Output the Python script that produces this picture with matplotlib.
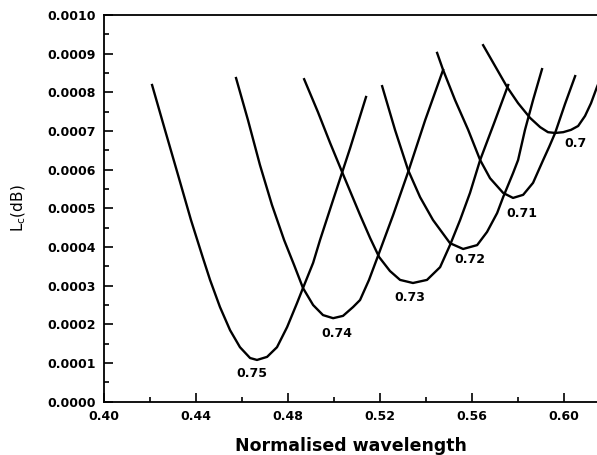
import numpy as np
import matplotlib
matplotlib.use("Agg")
import matplotlib.pyplot as plt
from matplotlib.ticker import MultipleLocator, FormatStrFormatter

# curve labels (numbers written next to each minimum)
labels = ["0.75", "0.74", "0.73", "0.72", "0.71", "0.7"]

# normalised wavelength / loss values
x75 = [0.4209, 0.4265, 0.4322, 0.4378, 0.4430, 0.4461, 0.4504, 0.4548, 0.4591,
       0.4635, 0.4665, 0.4709, 0.4752, 0.4796, 0.4839, 0.4865, 0.4909, 0.4939,
       0.4996, 0.5070, 0.5139]
y75 = [0.000819, 0.000703, 0.000586, 0.000470, 0.000372, 0.000315, 0.000245,
       0.000185, 0.000141, 0.000113, 0.000108, 0.000116, 0.000141, 0.000193,
       0.000255, 0.000294, 0.000359, 0.000418, 0.000522, 0.000656, 0.000788]

x74 = [0.4574, 0.4626, 0.4678, 0.4730, 0.4783, 0.4826, 0.4865, 0.4909, 0.4952,
       0.4996, 0.5039, 0.5083, 0.5113, 0.5152, 0.5191, 0.5257, 0.5322, 0.5396,
       0.5474]
y74 = [0.000837, 0.000728, 0.000612, 0.000509, 0.000418, 0.000354, 0.000294,
       0.000250, 0.000224, 0.000216, 0.000222, 0.000245, 0.000263, 0.000315,
       0.000377, 0.000483, 0.000594, 0.000728, 0.000858]

x73 = [0.4870, 0.4930, 0.4983, 0.5035, 0.5113, 0.5157, 0.5196, 0.5243, 0.5287,
       0.5343, 0.5404, 0.5461, 0.5504, 0.5548, 0.5591, 0.5635, 0.5696, 0.5757]
y73 = [0.000834, 0.000749, 0.000669, 0.000594, 0.000483, 0.000423, 0.000374,
       0.000338, 0.000315, 0.000307, 0.000315, 0.000348, 0.000405, 0.000470,
       0.000540, 0.000625, 0.000721, 0.000819]

x72 = [0.5209, 0.5265, 0.5322, 0.5374, 0.5430, 0.5504, 0.5561, 0.5622, 0.5665,
       0.5709, 0.5735, 0.5778, 0.5800, 0.5830, 0.5865, 0.5904]
y72 = [0.000816, 0.000703, 0.000599, 0.000529, 0.000470, 0.000410, 0.000395,
       0.000405, 0.000439, 0.000488, 0.000529, 0.000591, 0.000625, 0.000703,
       0.000780, 0.000860]

x71 = [0.5448, 0.5474, 0.5526, 0.5583, 0.5635, 0.5678, 0.5735, 0.5778, 0.5822,
       0.5865, 0.5909, 0.5935, 0.5961, 0.6004, 0.6048]
y71 = [0.000902, 0.000858, 0.000780, 0.000703, 0.000625, 0.000578, 0.000540,
       0.000527, 0.000535, 0.000566, 0.000625, 0.000659, 0.000695, 0.000770,
       0.000842]

x70 = [0.5648, 0.5700, 0.5752, 0.5800, 0.5852, 0.5896, 0.5930, 0.5961, 0.5996,
       0.6030, 0.6061, 0.6091, 0.6117, 0.6143, 0.6170]
y70 = [0.000922, 0.000868, 0.000814, 0.000772, 0.000734, 0.000710, 0.000697,
       0.000695, 0.000697, 0.000703, 0.000713, 0.000739, 0.000772, 0.000814,
       0.000853]

# where each label sits
label_x = [0.4643, 0.5013, 0.5330, 0.5591, 0.5817, 0.6048]
label_y = [0.000074, 0.000177, 0.000270, 0.000367, 0.000488, 0.000668]

curves = [(x75, y75), (x74, y74), (x73, y73), (x72, y72), (x71, y71), (x70, y70)]

fig = plt.figure(figsize=(5.97, 4.55), dpi=100)
ax = fig.add_axes([0.1742, 0.1171, 0.8258, 0.8499])

for xs, ys in curves:
    ax.plot(xs, ys, color="black", lw=1.7, solid_joinstyle="round")

for t, lx, ly in zip(labels, label_x, label_y):
    ax.text(lx, ly, t, ha="center", va="center", fontsize=9, fontweight="bold")

ax.set_xlim(0.40, 0.6143)
ax.set_ylim(0.0, 0.0010)

ax.xaxis.set_major_locator(MultipleLocator(0.04))
ax.xaxis.set_minor_locator(MultipleLocator(0.02))
ax.yaxis.set_major_locator(MultipleLocator(0.0001))
ax.yaxis.set_minor_locator(MultipleLocator(0.00005))
ax.xaxis.set_major_formatter(FormatStrFormatter("%.2f"))
ax.yaxis.set_major_formatter(FormatStrFormatter("%.4f"))

ax.tick_params(which="both", direction="in", width=1.2, top=False, right=False)
ax.tick_params(which="major", length=6.5, labelsize=9, pad=6)
ax.tick_params(which="minor", length=3.5)
for lab in ax.get_xticklabels() + ax.get_yticklabels():
    lab.set_fontweight("bold")

for s in ["left", "bottom", "top"]:
    ax.spines[s].set_linewidth(1.3)
ax.spines["right"].set_visible(False)

ax.set_xlabel("Normalised wavelength", fontsize=12.5, fontweight="bold", labelpad=10)
plt.rcParams["mathtext.default"] = "regular"
ax.set_ylabel("L$_c$(dB)", fontsize=11, labelpad=14)

fig.savefig("out.png", dpi=100)
